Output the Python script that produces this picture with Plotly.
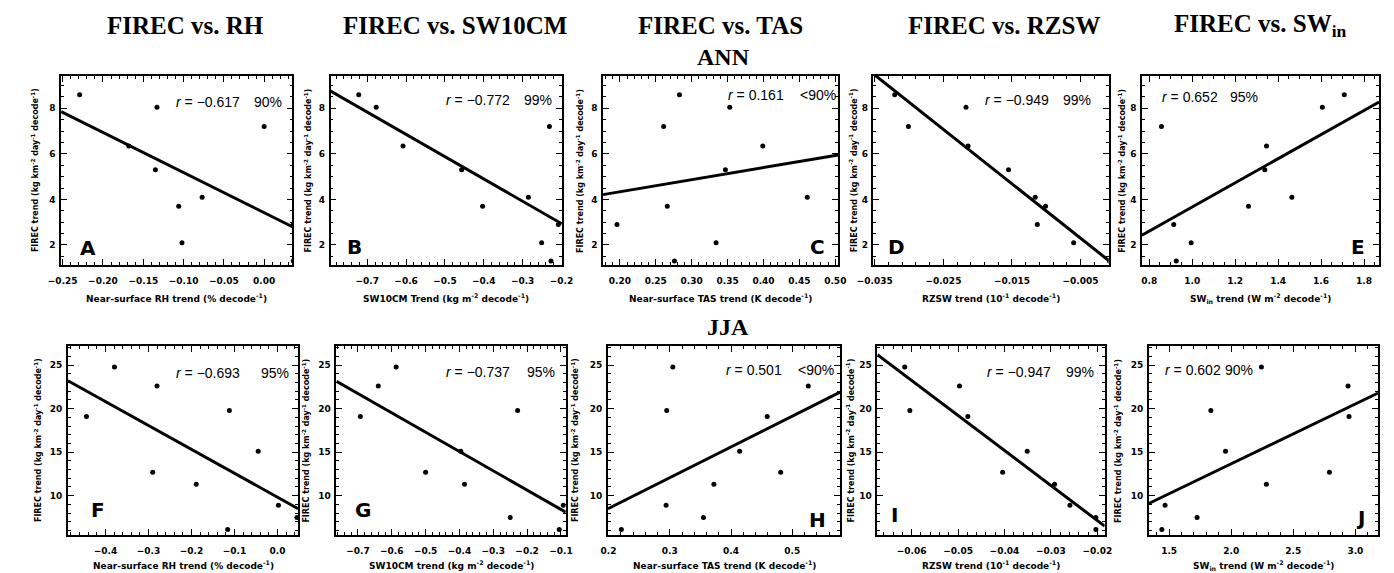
import plotly.graph_objects as go

W, H = 1394, 573

# ---------------- data ----------------
firec_ann = [8.60, 8.05, 7.20, 6.35, 5.30, 4.10, 3.70, 2.90, 2.10, 1.30]
firec_jja = [24.8, 22.6, 19.8, 19.1, 15.1, 12.7, 11.3, 8.9, 7.5, 6.1]

rh_ann = [-0.229, -0.133, 0.000, -0.168, -0.135, -0.077, -0.106, 0.036, -0.102, 0.036]
sw10_ann = [-0.722, -0.677, -0.231, -0.608, -0.457, -0.285, -0.403, -0.208, -0.251, -0.227]
tas_ann = [0.283, 0.353, 0.261, 0.399, 0.347, 0.461, 0.266, 0.196, 0.334, 0.276]
rzsw_ann = [-0.0321, -0.0217, -0.0301, -0.0214, -0.0155, -0.0116, -0.0101, -0.0113, -0.0060, -0.0008]
swin_ann = [1.708, 1.606, 0.857, 1.346, 1.338, 1.464, 1.262, 0.914, 0.995, 0.926]

rh_jja = [-0.379, -0.280, -0.112, -0.444, -0.045, -0.290, -0.189, 0.002, 0.045, -0.116]
sw10_jja = [-0.587, -0.640, -0.228, -0.693, -0.396, -0.500, -0.385, -0.093, -0.250, -0.105]
tas_jja = [0.305, 0.526, 0.295, 0.459, 0.414, 0.481, 0.372, 0.294, 0.355, 0.221]
rzsw_jja = [-0.0615, -0.0497, -0.0604, -0.0479, -0.0351, -0.0404, -0.0292, -0.0259, -0.0203, -0.0203]
swin_jja = [2.243, 2.941, 1.836, 2.949, 1.954, 2.791, 2.283, 1.467, 1.725, 1.441]

# regression line values at the left / right ends of each x axis
fit_ann = [[7.86, 2.80], [8.76, 2.93], [4.21, 5.95], [9.51, 1.32], [2.43, 8.28]]
fit_jja = [[23.2, 8.5], [23.15, 8.1], [8.5, 21.9], [26.2, 6.5], [9.1, 21.8]]

r_ann = ["\u22120.617", "\u22120.772", "0.161", "\u22120.949", "0.652"]
sig_ann = ["90%", "99%", "&lt;90%", "99%", "95%"]
r_jja = ["\u22120.693", "\u22120.737", "0.501", "\u22120.947", "0.602"]
sig_jja = ["95%", "95%", "&lt;90%", "99%", "90%"]

col_titles = ["FIREC vs. RH", "FIREC vs. SW10CM", "FIREC vs. TAS",
              "FIREC vs. RZSW", "FIREC vs. SW<sub>in</sub>"]
letters = ["A", "B", "C", "D", "E", "F", "G", "H", "I", "J"]
xtitles_ann = ["Near-surface RH trend (% decode<sup>-1</sup>)",
               "SW10CM Trend (kg m<sup>-2</sup> decode<sup>-1</sup>)",
               "Near-surface TAS trend (K decode<sup>-1</sup>)",
               "RZSW trend (10<sup>-1</sup> decode<sup>-1</sup>)",
               "SW<sub>in</sub> trend (W m<sup>-2</sup> decode<sup>-1</sup>)"]
xtitles_jja = ["Near-surface RH trend (% decode<sup>-1</sup>)",
               "SW10CM trend (kg m<sup>-2</sup> decode<sup>-1</sup>)",
               "Near-surface TAS trend (K decode<sup>-1</sup>)",
               "RZSW trend (10<sup>-1</sup> decode<sup>-1</sup>)",
               "SW<sub>in</sub> trend (W m<sup>-2</sup> decode<sup>-1</sup>)"]
ytitle = "FIREC trend (kg km<sup>-2</sup> day<sup>-1</sup> decode<sup>-1</sup>)"
season_labels = ["ANN", "JJA"]

# ---------------- layout geometry (pixels) ----------------
boxes = [(45, 281, 76, 265), (320, 556, 76, 265), (598, 838, 76, 265),
         (874, 1114, 76, 265), (1148, 1390, 76, 265),
         (52, 287, 346, 535), (326, 560, 346, 535), (603, 840, 346, 535),
         (878, 1110, 346, 535), (1155, 1389, 346, 535)]
xranges = [[-0.252, 0.035], [-0.7945, -0.199], [0.1765, 0.504], [-0.0352, -0.0009], [0.766, 1.870],
           [-0.487, 0.048], [-0.7636, -0.0857], [0.199, 0.578], [-0.0674, -0.0184], [1.336, 3.183]]
xticks = [(0, 0.05, ".2f", 0.01), (0, 0.1, ".1f", 0.02), (0, 0.05, ".2f", 0.01),
          (-0.005, 0.01, ".3f", 0.002), (0, 0.2, ".1f", 0.05),
          (0, 0.1, ".1f", 0.02), (0, 0.1, ".1f", 0.02), (0, 0.1, ".1f", 0.02),
          (0, 0.01, ".2f", 0.002), (0, 0.5, ".1f", 0.1)]
yr_ann = [1.12, 9.42]
yr_jja = [5.48, 27.2]

# r-text anchor: (x pixel, anchor side) ; significance text left edge
r_anchor = [(230, "right"), (505, "right"), (785, "right"), (1055, "right"), (1166, "left"),
            (230, "right"), (505, "right"), (783, "right"), (1057, "right"), (1170, "left")]
sig_left = [240, 515, 797, 1065, 1236, 247, 518, 795, 1068, 1231]
r_y = [102, 100, 95, 100, 97, 373, 372, 370, 372, 370]
letter_pos = [(62, 248, "left"), (335, 247, "left"), (827, 247, "right"), (887, 247, "left"),
              (1378, 247, "right"), (73, 510, "left"), (343, 510, "left"), (828, 520, "right"),
              (890, 515, "left"), (1378, 518, "right")]
ytitle_x = [19, 297, 575, 854, 1128, 21, 294, 569, 850, 1123]
title_x = [172, 447, 718, 1007, 1269]


def px(x):
    return x / W


def py(y):
    return 1 - y / H


xdata = [rh_ann, sw10_ann, tas_ann, rzsw_ann, swin_ann,
         rh_jja, sw10_jja, tas_jja, rzsw_jja, swin_jja]
ydata = [firec_ann] * 5 + [firec_jja] * 5
fits = fit_ann + fit_jja
rtexts = r_ann + r_jja
sigs = sig_ann + sig_jja
xtitles = xtitles_ann + xtitles_jja

tickfont = dict(family="DejaVu Sans", size=9, color="black", weight="bold")
axis_common = dict(showline=True, linecolor="black", linewidth=1.5, mirror="allticks",
                   ticks="inside", ticklen=6, tickwidth=1.2, tickcolor="black",
                   showgrid=False, zeroline=False, tickfont=tickfont, fixedrange=True)
rfont = dict(family="Liberation Sans", size=14, color="black")

fig = go.Figure()
layout = dict(width=W, height=H, margin=dict(l=0, r=0, t=0, b=0), autosize=False,
              paper_bgcolor="white", plot_bgcolor="white", showlegend=False)
annotations = []

for i in range(10):
    n = i + 1
    xa = "x" if n == 1 else f"x{n}"
    ya = "y" if n == 1 else f"y{n}"
    l, r, t, b = boxes[i]
    t0, dt, fmt, mdt = xticks[i]
    xr = xranges[i]
    fig.add_trace(go.Scatter(x=xdata[i], y=ydata[i], mode="markers", xaxis=xa, yaxis=ya,
                             marker=dict(color="black", size=5), cliponaxis=True,
                             hoverinfo="skip"))
    fig.add_trace(go.Scatter(x=xr, y=fits[i], mode="lines", xaxis=xa, yaxis=ya,
                             line=dict(color="black", width=3), hoverinfo="skip"))
    top = i < 5
    layout["xaxis" if n == 1 else f"xaxis{n}"] = dict(
        axis_common, domain=[px(l), px(r)], range=xr, anchor=ya,
        tick0=t0, dtick=dt, tickformat=fmt, ticklabelstandoff=6,
        minor=dict(ticks="inside", ticklen=3, tickwidth=1, tickcolor="black",
                   dtick=mdt, tick0=t0, showgrid=False))
    layout["yaxis" if n == 1 else f"yaxis{n}"] = dict(
        axis_common, domain=[py(b), py(t)], range=yr_ann if top else yr_jja, anchor=xa,
        tick0=0, dtick=2 if top else 5, tickformat="d", ticklabelstandoff=2,
        minor=dict(ticks="inside", ticklen=3, tickwidth=1, tickcolor="black",
                   dtick=0.5 if top else 1, tick0=0, showgrid=False))

    # r value and significance
    rx, rside = r_anchor[i]
    annotations.append(dict(xref="paper", yref="paper", x=px(rx), y=py(r_y[i]),
                            xanchor=rside, yanchor="middle", showarrow=False,
                            text="<i>r</i> = " + rtexts[i], font=rfont))
    annotations.append(dict(xref="paper", yref="paper", x=px(sig_left[i]), y=py(r_y[i]),
                            xanchor="left", yanchor="middle", showarrow=False,
                            text=sigs[i], font=rfont))
    # panel letter
    lx, ly, la = letter_pos[i]
    annotations.append(dict(xref="paper", yref="paper", x=px(lx), y=py(ly),
                            xanchor=la, yanchor="middle", showarrow=False, text=letters[i],
                            font=dict(family="DejaVu Sans", size=20, color="black", weight="bold")))
    # x-axis title
    annotations.append(dict(xref="paper", yref="paper", x=px((l + r) / 2),
                            y=py(b + (33 if top else 30)),
                            xanchor="center", yanchor="middle", showarrow=False, text=xtitles[i],
                            font=dict(family="DejaVu Sans", size=9, color="black", weight="bold")))
    # y-axis title
    annotations.append(dict(xref="paper", yref="paper", x=px(ytitle_x[i]), y=py((t + b) / 2),
                            xanchor="center", yanchor="middle", showarrow=False, text=ytitle,
                            textangle=-90,
                            font=dict(family="DejaVu Sans", size=8, color="black", weight="bold")))

for j in range(5):
    annotations.append(dict(xref="paper", yref="paper", x=px(title_x[j]), y=py(25),
                            xanchor="center", yanchor="middle", showarrow=False, text=col_titles[j],
                            font=dict(family="Liberation Serif", size=25, color="black", weight="bold")))

annotations.append(dict(xref="paper", yref="paper", x=px(721), y=py(57), xanchor="center",
                        yanchor="middle", showarrow=False, text=season_labels[0],
                        font=dict(family="Liberation Serif", size=24, color="black", weight="bold")))
annotations.append(dict(xref="paper", yref="paper", x=px(726), y=py(327), xanchor="center",
                        yanchor="middle", showarrow=False, text=season_labels[1],
                        font=dict(family="Liberation Serif", size=24, color="black", weight="bold")))

layout["annotations"] = annotations
fig.update_layout(**layout)
fig.write_html("out.html")
